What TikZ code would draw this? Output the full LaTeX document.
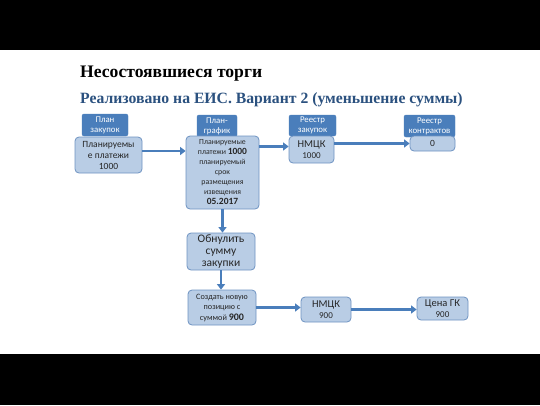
\documentclass[tikz,border=0pt]{standalone}
\usepackage{fontspec}
\setmainfont{Liberation Serif}
\newfontfamily\calibri{Carlito}
\usetikzlibrary{arrows.meta}
\definecolor{hdrblue}{HTML}{4A7EBB}
\definecolor{boxfill}{HTML}{B9CDE5}
\definecolor{boxline}{HTML}{6E93C2}
\definecolor{arrblue}{HTML}{4A7EBB}
\definecolor{subblue}{HTML}{2B517F}
\tikzset{
  hdr/.style={draw=hdrblue, fill=hdrblue, rounded corners=2pt, text=white, inner sep=0pt, align=center, font=\calibri\fontsize{8.8}{10}\selectfont},
  bx/.style={draw=boxline, fill=boxfill, rounded corners=4pt, line width=0.8pt, inner sep=0pt, align=center, text=black!85, font=\calibri\fontsize{9.5}{11}\selectfont},
  conn/.style={draw=arrblue, line width=2.8pt, -{Triangle[length=5.5pt,width=8pt]}}
}
\begin{document}
\begin{tikzpicture}[x=1pt,y=-1pt]
\useasboundingbox (0,0) rectangle (540,405);
\fill[black] (0,0) rectangle (540,50);
\fill[black] (0,354) rectangle (540,405);
\node[anchor=base west, inner sep=0pt, font=\bfseries\fontsize{17.6}{19}\selectfont] (title) at (80,77) {Несостоявшиеся торги};
\node[anchor=base west, inner sep=0pt, text=subblue, font=\bfseries\fontsize{15.7}{18}\selectfont] (sub) at (80,103) {Реализовано на ЕИС. Вариант 2 (уменьшение суммы)};
% headers
\node[hdr, minimum width=46, minimum height=22] (h1) at (105,125) {План\\закупок};
\node[hdr, minimum width=40, minimum height=22] (h2) at (217,126) {План-\\график};
\node[hdr, minimum width=47, minimum height=21] (h3) at (312.5,125.5) {Реестр\\закупок};
\node[hdr, minimum width=51, minimum height=22] (h4) at (429.5,126) {Реестр\\контрактов};
% boxes
\node[bx, minimum width=67, minimum height=36] (b1) at (108.5,155) {Планируемы\\е платежи\\1000};
\node[bx, minimum width=73, minimum height=73, font=\calibri\fontsize{7.8}{10}\selectfont] (b2) at (222.5,172.5) {Планируемые\\платежи {\bfseries\fontsize{9.5}{10}\selectfont 1000}\\планируемый\\срок\\размещения\\извещения\\{\bfseries\fontsize{9.5}{10}\selectfont 05.2017}};
\node[bx, minimum width=45, minimum height=27, font=\calibri\fontsize{10.5}{11.5}\selectfont] (b3) at (311.5,149.5) {НМЦК\\{\fontsize{9}{11.5}\selectfont 1000}};
\node[bx, minimum width=45, minimum height=15] (b4) at (432.5,143.5) {0};
\node[bx, minimum width=68, minimum height=37, font=\calibri\fontsize{11.5}{12}\selectfont] (b5) at (221,251.5) {Обнулить\\сумму\\закупки};
\node[bx, minimum width=68, minimum height=35, font=\calibri\fontsize{8.2}{10.5}\selectfont] (b6) at (222,307.5) {Создать новую\\позицию с\\суммой {\bfseries\fontsize{10}{10.5}\selectfont 900}};
\node[bx, minimum width=50, minimum height=25, font=\calibri\fontsize{10.5}{11}\selectfont] (b7) at (326,309.5) {НМЦК\\{\fontsize{9}{11}\selectfont 900}};
\node[bx, minimum width=51, minimum height=23, font=\calibri\fontsize{10.5}{11}\selectfont] (b8) at (442.5,308.5) {Цена ГК\\{\fontsize{9}{11}\selectfont 900}};
% connectors
\draw[conn] ([yshift=4pt]b1.east) -- ([yshift=4pt]b1.east -| b2.west);
\draw[conn] ([yshift=3pt]b2.east |- b3.west) -- ([yshift=3pt]b3.west);
\draw[conn] (b3.east |- b4.west) -- (b4.west);
\draw[conn] (b2.south) -- (b2.south |- b5.north);
\draw[conn] (b5.south) -- (b5.south |- b6.north);
\draw[conn] (b6.east) -- (b6.east -| b7.west);
\draw[conn] (b7.east) -- (b7.east -| b8.west);
\end{tikzpicture}
\end{document}
